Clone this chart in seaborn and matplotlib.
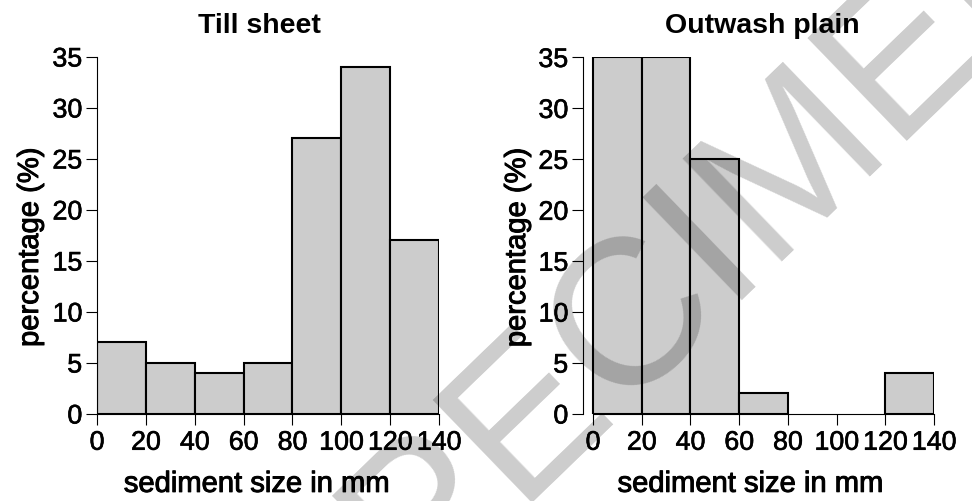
import matplotlib
matplotlib.use("Agg")
import matplotlib.pyplot as plt
import matplotlib.patheffects as pe
import seaborn as sns

# ---- data ----
bin_edges = [0, 20, 40, 60, 80, 100, 120, 140]
bin_centers = [10, 30, 50, 70, 90, 110, 130]
till_pct = [7, 5, 4, 5, 27, 34, 17]
outwash_pct = [35, 35, 25, 2, 0, 0, 4]
titles = ["Till sheet", "Outwash plain"]
xticks = [0, 20, 40, 60, 80, 100, 120, 140]
yticks = [0, 5, 10, 15, 20, 25, 30, 35]

sns.set_theme(style="ticks")
plt.rcParams["font.family"] = ["Liberation Sans", "DejaVu Sans"]

fig = plt.figure(figsize=(9.72, 5.01), dpi=100)
W, H = 972, 501

def px_axes(x0, x1, ytop, ybot):
    return fig.add_axes([x0 / W, 1 - ybot / H, (x1 - x0) / W, (ybot - ytop) / H])

ax1 = px_axes(97, 439, 56.5, 413.5)
ax2 = px_axes(583, 934, 57, 413.5)
xlims = [(0, 140), (-4.1, 140)]
ylab_x = [-0.155, -0.148]
xlab_x = [0.466, 0.476]
title_x = [0.474, 0.51]

thick = [pe.withStroke(linewidth=0.7, foreground="black")]
thin = [pe.withStroke(linewidth=0.45, foreground="black")]

for i, (ax, vals, title, xl) in enumerate(zip([ax1, ax2], [till_pct, outwash_pct], titles, xlims)):
    sns.histplot(x=bin_centers, weights=vals, bins=bin_edges, ax=ax,
                 color="#cccccc", edgecolor="black", linewidth=1.5, alpha=1)
    for p in list(ax.patches):
        if p.get_height() == 0:
            p.remove()
    ax.set_xlim(*xl)
    ax.set_ylim(0, 35)
    ax.set_xticks(xticks)
    ax.set_yticks(yticks)
    ax.set_xticklabels([str(t) for t in xticks])
    ax.set_yticklabels([str(t) for t in yticks])
    ax.tick_params(axis="both", labelsize=19.3, length=7.7, width=0.8,
                   color="black", pad=3, labelcolor="black")
    ax.tick_params(axis="x", pad=4)
    for lab in ax.get_xticklabels() + ax.get_yticklabels():
        lab.set_path_effects(thin)
    for s in ["top", "right"]:
        ax.spines[s].set_visible(False)
    for s in ["left", "bottom"]:
        ax.spines[s].set_linewidth(0.8)
        ax.spines[s].set_color("black")
    ax.spines["bottom"].set_bounds(0, 140)
    ax.spines["left"].set_bounds(0, 35)
    xlab = ax.set_xlabel("sediment size in mm", fontsize=21, color="black")
    ylab = ax.set_ylabel("percentage (%)", fontsize=21, color="black")
    xlab.set_path_effects(thick)
    ylab.set_path_effects(thick)
    ax.xaxis.set_label_coords(xlab_x[i], -0.158)
    ax.yaxis.set_label_coords(ylab_x[i], 0.466)
    ax.set_title(title, fontsize=20.5, fontweight="bold", color="black",
                 x=title_x[i], y=1.066, pad=0)
    ax.set_facecolor("none")

# watermark
fig.text(0.692, 0.434, "SPECIMEN", fontsize=150, color="black", alpha=0.2,
         rotation=44, ha="center", va="center", zorder=10,
         family=["Liberation Sans", "DejaVu Sans"])

fig.savefig("out.png", dpi=100)
